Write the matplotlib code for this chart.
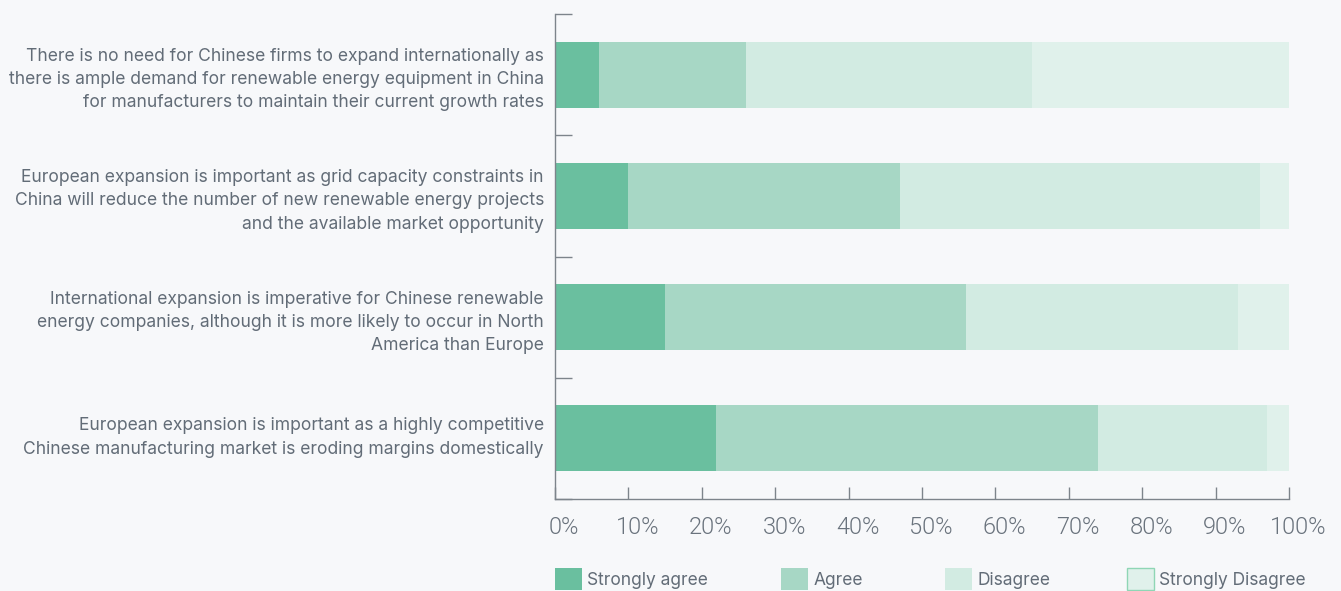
import matplotlib
matplotlib.use("Agg")
import matplotlib.pyplot as plt
import matplotlib.transforms as mtransforms
import numpy as np
from matplotlib.patches import Patch
from matplotlib.ticker import FixedLocator, PercentFormatter

statements = [
    "There is no need for Chinese firms to expand internationally as\nthere is ample demand for renewable energy equipment in China\nfor manufacturers to maintain their current growth rates",
    "European expansion is important as grid capacity constraints in\nChina will reduce the number of new renewable energy projects\nand the available market opportunity",
    "International expansion is imperative for Chinese renewable\nenergy companies, although it is more likely to occur in North\nAmerica than Europe",
    "European expansion is important as a highly competitive\nChinese manufacturing market is eroding margins domestically",
]
series_names = ["Strongly agree", "Agree", "Disagree", "Strongly Disagree"]
strongly_agree = [6, 10, 15, 22]
agree = [20, 37, 41, 52]
disagree = [39, 49, 37, 23]
strongly_disagree = [35, 4, 7, 3]
x_ticks = list(range(0, 101, 10))

colors = ["#6abf9f", "#a7d7c5", "#d2ebe2", "#e0f1eb"]
bg = "#f7f8fa"
text_color = "#626c77"
axis_color = "#7d848b"

W, H = 1341, 591
fig = plt.figure(figsize=(W / 100, H / 100), dpi=100, facecolor=bg)
ax = fig.add_axes([555 / W, 1 - 499 / H, 734 / W, 485 / H])
ax.set_facecolor(bg)

values = [strongly_agree, agree, disagree, strongly_disagree]
y = np.arange(len(statements))
left = np.zeros(len(statements))
for name, vals, col in zip(series_names, values, colors):
    ax.barh(y, vals, left=left, height=0.545, color=col, edgecolor="none", label=name)
    left += np.array(vals)

ax.set_xlim(0, 100)
ax.set_ylim(len(statements) - 0.5, -0.5)

for s in ["top", "right"]:
    ax.spines[s].set_visible(False)
for s in ["left", "bottom"]:
    ax.spines[s].set_color(axis_color)
    ax.spines[s].set_linewidth(1.0)

ax.set_yticks(y)
ax.set_yticklabels(statements, fontsize=12.6, color=text_color, family="Inter",
                   linespacing=1.48)
ax.tick_params(axis="y", which="major", length=0, pad=8)
ax.yaxis.set_minor_locator(FixedLocator(np.arange(-0.5, len(statements), 1.0)))
ax.tick_params(axis="y", which="minor", length=12.5, direction="in",
               color=axis_color, width=1.0)
# two-line label sits a little higher than its bar
ylabels = ax.get_yticklabels()
lift = mtransforms.ScaledTranslation(0, 6 / 100, fig.dpi_scale_trans)
ylabels[-1].set_transform(ylabels[-1].get_transform() + lift)

ax.set_xticks(x_ticks)
ax.xaxis.set_major_formatter(PercentFormatter(decimals=0))
ax.tick_params(axis="x", length=8.5, direction="in", color=axis_color, width=1.0,
               pad=12, labelsize=17, labelcolor="#6a737d")
shift = mtransforms.ScaledTranslation(9 / 100, 0, fig.dpi_scale_trans)
for lbl in ax.get_xticklabels():
    lbl.set_family("Roboto")
    lbl.set_fontweight(300)
    lbl.set_transform(lbl.get_transform() + shift)

# legend entries, one per series, laid out along the bottom edge
legend_x = [555, 781, 945, 1127]
legend_top = 568
for i, (name, col) in enumerate(zip(series_names, colors)):
    if i == len(series_names) - 1:
        h = Patch(facecolor=col, edgecolor="#8fd6b5", linewidth=1.0)
    else:
        h = Patch(facecolor=col, edgecolor="none")
    leg = fig.legend([h], [name], loc="upper left",
                     bbox_to_anchor=(legend_x[i] / W, 1 - legend_top / H),
                     frameon=False, handlelength=1.55, handleheight=1.6,
                     handletextpad=0.3, borderaxespad=0, borderpad=0,
                     prop={"family": "Inter", "size": 12.5})
    for t in leg.get_texts():
        t.set_color(text_color)

fig.savefig("out.png", dpi=100, facecolor=bg)
